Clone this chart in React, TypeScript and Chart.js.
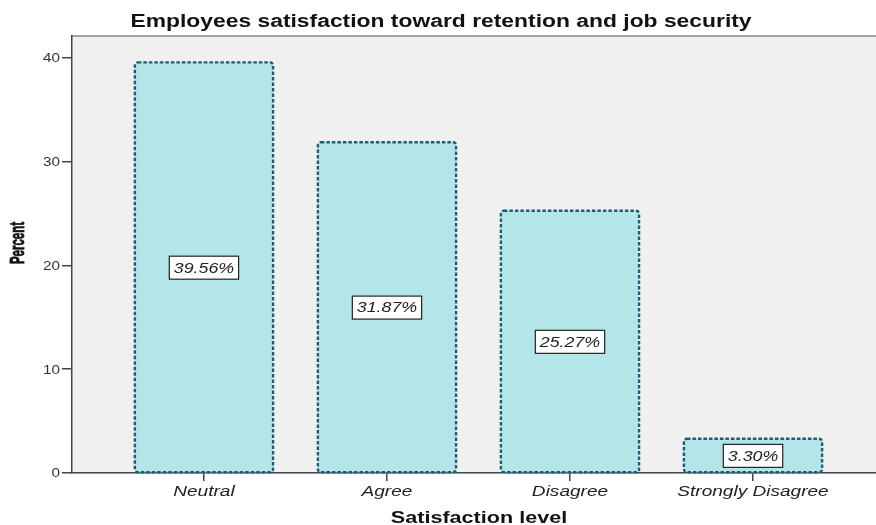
import React, { useEffect, useRef } from "react";
import { Chart, registerables } from "chart.js";

Chart.register(...registerables);

const categories = ["Neutral", "Agree", "Disagree", "Strongly Disagree"];
const percentValues = [39.56, 31.87, 25.27, 3.3];
const yTicks = [0, 10, 20, 30, 40];
const chartTitle = "Employees satisfaction toward retention and job security";
const xTitle = "Satisfaction level";
const yTitle = "Percent";

const FILL = "#b3e6e8";
const EDGE = "#1d5d78";
const FONT = "Arial, 'Liberation Sans', sans-serif";
const SX = 1.27;

function stretchedText(
  ctx: CanvasRenderingContext2D,
  txt: string,
  x: number,
  y: number,
  font: string,
  align: CanvasTextAlign,
  color: string,
  sx = SX
) {
  ctx.save();
  ctx.font = font;
  ctx.fillStyle = color;
  ctx.textAlign = align;
  ctx.textBaseline = "middle";
  ctx.translate(x, y);
  ctx.scale(sx, 1);
  ctx.fillText(txt, 0, 0);
  ctx.restore();
}

const decorPlugin = {
  id: "decor",
  beforeDraw(chart: any) {
    const { ctx, chartArea } = chart;
    ctx.save();
    ctx.fillStyle = "#f0f0f0";
    ctx.fillRect(chartArea.left, chartArea.top, chartArea.right - chartArea.left, chartArea.bottom - chartArea.top);
    ctx.strokeStyle = "#8a8a8a";
    ctx.lineWidth = 1.5;
    ctx.beginPath();
    ctx.moveTo(chartArea.left, chartArea.top);
    ctx.lineTo(chartArea.right, chartArea.top);
    ctx.stroke();
    ctx.restore();
  },
  afterDatasetsDraw(chart: any) {
    const { ctx } = chart;
    const meta = chart.getDatasetMeta(0);
    const yScale = chart.scales.y;
    ctx.save();
    meta.data.forEach((bar: any, i: number) => {
      const w = bar.width;
      const left = bar.x - w / 2;
      const top = bar.y;
      const h = bar.base - bar.y;
      ctx.strokeStyle = EDGE;
      ctx.lineWidth = 2.4;
      ctx.setLineDash([3.5, 2]);
      ctx.beginPath();
      if ((ctx as any).roundRect) (ctx as any).roundRect(left, top, w, h, 3);
      else ctx.rect(left, top, w, h);
      ctx.stroke();
      ctx.setLineDash([]);

      const v = percentValues[i];
      const txt = v.toFixed(2) + "%";
      const font = `italic 14px ${FONT}`;
      ctx.font = font;
      const tw = ctx.measureText(txt).width * SX;
      const bw = tw + 9;
      const bh = 23;
      const cy = yScale.getPixelForValue(v / 2);
      const bx = bar.x - bw / 2;
      const by = cy - bh / 2;
      ctx.fillStyle = "#ffffff";
      ctx.fillRect(bx, by, bw, bh);
      ctx.strokeStyle = "#222222";
      ctx.lineWidth = 1.2;
      ctx.strokeRect(bx, by, bw, bh);
      stretchedText(ctx, txt, bar.x, cy + 1, font, "center", "#222222");
    });
    ctx.restore();
  },
  afterDraw(chart: any) {
    const { ctx, chartArea } = chart;
    const xs = chart.scales.x;
    const ys = chart.scales.y;
    // title
    stretchedText(ctx, chartTitle, 876 / 2 + 3, 22, `bold 18px ${FONT}`, "center", "#111111");
    // y tick labels
    yTicks.forEach((v) => {
      stretchedText(ctx, String(v), 60, ys.getPixelForValue(v) + 1, `12px ${FONT}`, "right", "#333333");
    });
    // x tick labels
    categories.forEach((c, i) => {
      stretchedText(ctx, c, xs.getPixelForValue(i), 492, `italic 15px ${FONT}`, "center", "#222222");
    });
    // x title
    stretchedText(ctx, xTitle, (chartArea.left + chartArea.right) / 2 + 5, 518, `bold 17px ${FONT}`, "center", "#111111");
    // y title (rotated)
    ctx.save();
    ctx.font = `bold 11.5px ${FONT}`;
    ctx.fillStyle = "#111111";
    ctx.strokeStyle = "#111111";
    ctx.lineWidth = 0.5;
    ctx.textAlign = "center";
    ctx.textBaseline = "middle";
    ctx.translate(18, 243);
    ctx.scale(1.75, 1);
    ctx.rotate(-Math.PI / 2);
    ctx.fillText(yTitle, 0, 0);
    ctx.strokeText(yTitle, 0, 0);
    ctx.restore();
  },
};

export default function App() {
  const ref = useRef<HTMLCanvasElement | null>(null);

  useEffect(() => {
    if (!ref.current) return;
    const chart = new Chart(ref.current, {
      type: "bar",
      data: {
        datasets: [
          {
            data: categories.map((_, i) => ({ x: i, y: percentValues[i] })),
            backgroundColor: FILL,
            borderWidth: 0,
            borderRadius: 3,
            borderSkipped: false,
            categoryPercentage: 1,
            barPercentage: 0.755,
          } as any,
        ],
      },
      options: {
        responsive: false,
        animation: false,
        layout: { padding: { left: 0, right: 0, top: 36, bottom: 0 } },
        plugins: {
          legend: { display: false },
          tooltip: { enabled: false },
          title: { display: false },
        },
        scales: {
          x: {
            type: "linear",
            offset: false,
            min: -0.721,
            max: 3.672,
            afterBuildTicks: (axis: any) => {
              axis.ticks = categories.map((_, i) => ({ value: i }));
            },
            afterFit: (axis: any) => {
              axis.height = 52;
            },
            ticks: { display: false },
            grid: { offset: false, drawOnChartArea: false, drawTicks: true, tickLength: 8, color: "#444444", lineWidth: 1.5 },
            border: { display: true, color: "#444444", width: 1.5 },
          } as any,
          y: {
            min: 0,
            max: 42.1,
            afterBuildTicks: (axis: any) => {
              axis.ticks = yTicks.map((v) => ({ value: v }));
            },
            afterFit: (axis: any) => {
              axis.width = 72;
            },
            ticks: { display: false },
            grid: { drawOnChartArea: false, drawTicks: true, tickLength: 10, color: "#444444", lineWidth: 1.5 },
            border: { display: true, color: "#444444", width: 1.5 },
          } as any,
        },
      },
      plugins: [decorPlugin],
    });
    return () => chart.destroy();
  }, []);

  return (
    <div style={{ position: "absolute", left: 0, top: 0, width: 876, height: 525, background: "#ffffff" }}>
      <canvas ref={ref} width={876} height={525} style={{ display: "block" }} />
    </div>
  );
}
